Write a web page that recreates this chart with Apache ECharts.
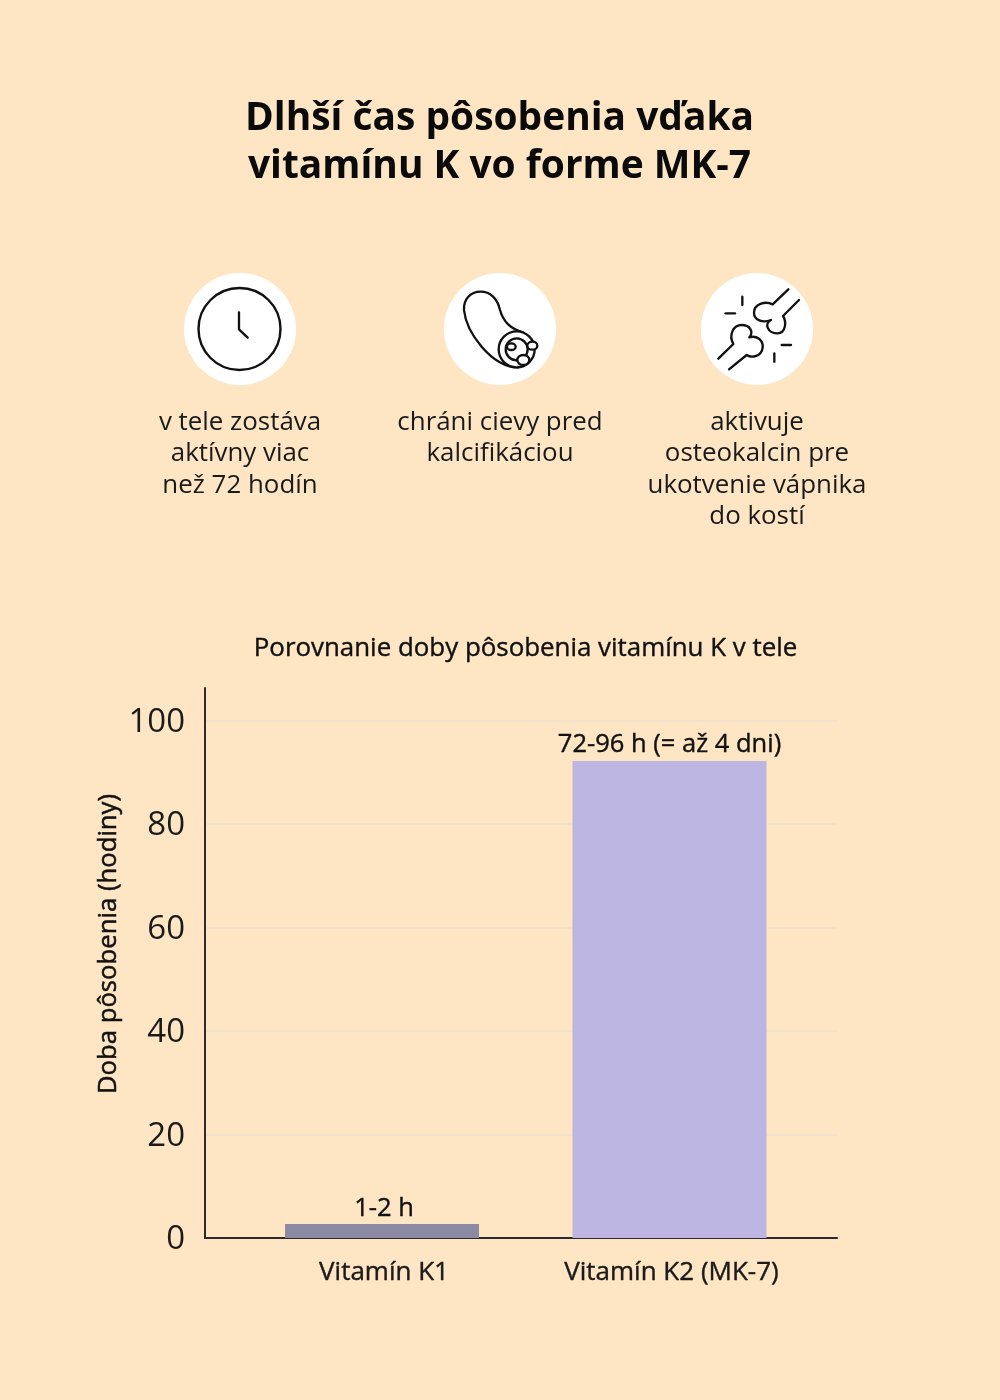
<!DOCTYPE html>
<html lang="sk">
<head>
  <meta charset="UTF-8">
  <title>Dlhší čas pôsobenia vďaka vitamínu K</title>
  <script src="https://cdnjs.cloudflare.com/ajax/libs/echarts/6.0.0/echarts.min.js"></script>
  <style>
    html, body { margin: 0; padding: 0; background: #fee5c3; }
    #chart { width: 1000px; height: 1400px; }
  </style>
</head>
<body>
  <div id="chart"></div>
  <script>
    const categories = ['Vitamín K1', 'Vitamín K2 (MK-7)'];
    const categoryPositions = [0, 1];
    const hours = [2.7, 92.2];
    const barLabels = ['1-2 h', '72-96 h (= až 4 dni)'];
    const barColors = ['#8b8aa2', '#bdb5e2'];
    const yTicks = [0, 20, 40, 60, 80, 100];

    const mainTitle = 'Dlhší čas pôsobenia vďaka\nvitamínu K vo forme MK-7';
    const chartTitle = 'Porovnanie doby pôsobenia vitamínu K v tele';
    const yName = 'Doba pôsobenia (hodiny)';
    const benefits = [
      'v tele zostáva\naktívny viac\nnež 72 hodín',
      'chráni cievy pred\nkalcifikáciou',
      'aktivuje\nosteokalcin pre\nukotvenie vápnika\ndo kostí'
    ];

    const FONT = '"Open Sans", "Noto Sans", sans-serif';
    const INK = '#111111';
    const benefitX = [240, 500, 757];
    const iconX = [240, 500, 757];

    // the graphic component has no path type, so svg paths get registered as shapes
    let shapeCount = 0;
    function pathShape(d, originX, originY, fill) {
      const name = 'iconPath' + shapeCount++;
      echarts.graphic.registerShape(name, echarts.graphic.extendPath(d, {}));
      // icons are traced at 3x from the picture, so they get scaled back down
      return {
        type: name,
        x: originX,
        y: originY,
        scaleX: 1 / 3,
        scaleY: 1 / 3,
        style: { fill: fill || 'none', stroke: INK, lineWidth: 7, lineCap: 'round', lineJoin: 'round' }
      };
    }

    function ellipseD(cx, cy, rx, ry) {
      return 'M' + (cx - rx) + ',' + cy +
        ' A' + rx + ',' + ry + ' 0 1 1 ' + (cx + rx) + ',' + cy +
        ' A' + rx + ',' + ry + ' 0 1 1 ' + (cx - rx) + ',' + cy + ' Z';
    }

    const graphics = [];
    iconX.forEach(x => {
      graphics.push({ type: 'circle', shape: { cx: x, cy: 329, r: 56 }, style: { fill: '#fff' } });
    });

    // clock
    graphics.push({
      type: 'circle',
      shape: { cx: 239.5, cy: 329, r: 41 },
      style: { fill: 'none', stroke: INK, lineWidth: 2.4 }
    });
    graphics.push(pathShape('M207,157 L207,208 L233,233', 170, 260));

    // vessel
    graphics.push(pathShape(
      'M1060,218 C1020,205 1000,185 990,150 C982,115 960,95 932,95 C900,95 880,120 882,150 C886,190 905,225 935,260 C965,295 1005,322 1045,322',
      170, 260));
    graphics.push(pathShape(ellipseD(1040, 268, 54, 54), 170, 260, '#fff'));
    graphics.push(pathShape(ellipseD(1040, 268, 33, 33), 170, 260, '#fff'));
    graphics.push(pathShape(ellipseD(1024, 260, 13, 10), 170, 260, '#fff'));
    graphics.push(pathShape(ellipseD(1087, 257, 15, 12), 170, 260, '#fff'));
    graphics.push(pathShape(ellipseD(1060, 300, 18, 15), 170, 260, '#fff'));

    // bones
    [
      'M295,88 L248,133 C225,122 192,132 192,158 C192,180 218,190 243,180 C222,190 232,220 262,220 C288,220 290,185 279,168 L327,120',
      'M85,296 L130,252 C115,225 130,195 155,195 C180,195 192,215 178,232 C200,225 220,240 218,262 C215,290 185,295 170,285 L117,328',
      'M157,110 L157,135', 'M107,160 L135,160', 'M275,255 L303,255', 'M253,280 L253,305'
    ].forEach(d => graphics.push(pathShape(d, 690, 260)));

    // heading and benefit captions
    graphics.push({
      type: 'text',
      x: 499.5,
      y: 143,
      style: {
        text: mainTitle, fill: '#0a0a0a', font: '700 38.9px ' + FONT,
        align: 'center', verticalAlign: 'middle', lineHeight: 48
      }
    });
    benefits.forEach((text, i) => {
      graphics.push({
        type: 'text',
        x: benefitX[i],
        y: 407,
        style: {
          text: text, fill: '#1a1a1a', font: '400 25.9px ' + FONT,
          align: 'center', verticalAlign: 'top', lineHeight: 31.3
        }
      });
    });
    graphics.push({
      type: 'text',
      x: 525.5,
      y: 649,
      style: {
        text: chartTitle, fill: '#111', font: '400 25.9px ' + FONT,
        align: 'center', verticalAlign: 'middle',
        stroke: '#111', lineWidth: 0.4
      }
    });

    const chart = echarts.init(document.getElementById('chart'), null, { renderer: 'canvas' });
    chart.setOption({
      backgroundColor: '#fee5c3',
      animation: false,
      textStyle: { fontFamily: FONT },
      grid: { left: 205, right: 163, top: 688, bottom: 162 },
      xAxis: {
        type: 'value',
        min: -0.6157,
        max: 1.5826,
        splitLine: { show: false },
        axisTick: { show: false },
        axisLine: { show: true, onZero: false, lineStyle: { color: '#2b2b2b', width: 2 } },
        axisLabel: {
          customValues: categoryPositions,
          formatter: v => categories[categoryPositions.indexOf(v)],
          color: '#1a1a1a',
          fontSize: 26,
          textBorderColor: '#1a1a1a',
          textBorderWidth: 0.4,
          padding: [0, 0, 0, 4],
          margin: 22
        }
      },
      yAxis: {
        type: 'value',
        min: 0,
        max: 106.3,
        name: yName,
        nameLocation: 'middle',
        nameGap: 83,
        nameMoveOverlap: false,
        nameTextStyle: {
          color: '#111',
          fontSize: 25.7,
          textBorderColor: '#111',
          textBorderWidth: 0.5,
          padding: [0, 0, 0, 38]
        },
        axisLine: { show: true, onZero: false, lineStyle: { color: '#2b2b2b', width: 2 } },
        axisTick: { show: false, customValues: yTicks },
        axisLabel: {
          customValues: yTicks,
          color: '#1a1a1a',
          fontSize: 33,
          verticalAlign: 'top',
          lineHeight: 4,
          margin: 20
        },
        splitLine: {
          show: true,
          lineStyle: { color: '#f3e1ca', width: 2 }
        }
      },
      series: [{
        type: 'bar',
        barWidth: 194,
        data: hours.map((h, i) => ({
          value: [categoryPositions[i], h],
          itemStyle: { color: barColors[i] },
          label: { formatter: barLabels[i], offset: i === 0 ? [2, 1] : [0, 0] }
        })),
        label: {
          show: true,
          position: 'top',
          distance: 3,
          color: '#111',
          fontSize: 25.5,
          textBorderColor: '#111',
          textBorderWidth: 0.4
        }
      }],
      graphic: graphics
    });
  </script>
</body>
</html>
